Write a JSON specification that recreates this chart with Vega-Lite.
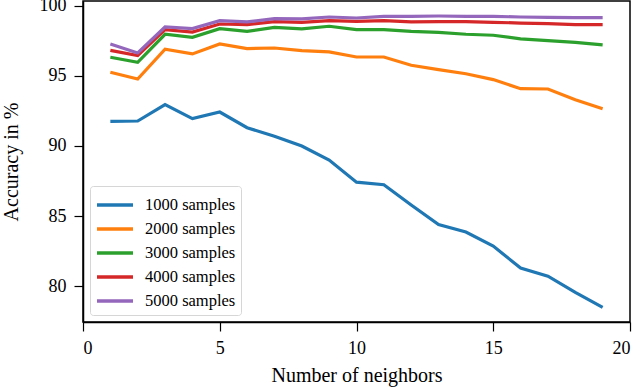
{
  "$schema": "https://vega.github.io/schema/vega-lite/v6.json",
  "autosize": {"type": "none"},
  "width": 547,
  "height": 321,
  "padding": {"left": 83, "top": 1, "right": 10, "bottom": 68},
  "background": "white",
  "config": {
    "font": "Liberation Serif",
    "view": {"stroke": "black", "strokeWidth": 1.5},
    "axis": {
      "labelFont": "Liberation Serif", "titleFont": "Liberation Serif",
      "domainColor": "black", "tickColor": "black", "labelColor": "black", "titleColor": "black",
      "grid": false, "tickSize": 9, "tickWidth": 1.2, "domainWidth": 1.5,
      "labelFontSize": 18, "titleFontSize": 20, "titleFontWeight": "normal", "labelPadding": 8
    },
    "legend": {"labelFont": "Liberation Serif"}
  },
  "data": {"values": [
    {"k":1,"acc":91.75,"s":"1000 samples"},{"k":2,"acc":91.78,"s":"1000 samples"},{"k":3,"acc":92.95,"s":"1000 samples"},{"k":4,"acc":91.95,"s":"1000 samples"},{"k":5,"acc":92.42,"s":"1000 samples"},{"k":6,"acc":91.3,"s":"1000 samples"},{"k":7,"acc":90.7,"s":"1000 samples"},{"k":8,"acc":90.0,"s":"1000 samples"},{"k":9,"acc":89.0,"s":"1000 samples"},{"k":10,"acc":87.42,"s":"1000 samples"},{"k":11,"acc":87.24,"s":"1000 samples"},{"k":12,"acc":85.8,"s":"1000 samples"},{"k":13,"acc":84.4,"s":"1000 samples"},{"k":14,"acc":83.87,"s":"1000 samples"},{"k":15,"acc":82.87,"s":"1000 samples"},{"k":16,"acc":81.3,"s":"1000 samples"},{"k":17,"acc":80.72,"s":"1000 samples"},{"k":18,"acc":79.57,"s":"1000 samples"},{"k":19,"acc":78.5,"s":"1000 samples"},
    {"k":1,"acc":95.25,"s":"2000 samples"},{"k":2,"acc":94.77,"s":"2000 samples"},{"k":3,"acc":96.9,"s":"2000 samples"},{"k":4,"acc":96.56,"s":"2000 samples"},{"k":5,"acc":97.27,"s":"2000 samples"},{"k":6,"acc":96.94,"s":"2000 samples"},{"k":7,"acc":96.98,"s":"2000 samples"},{"k":8,"acc":96.8,"s":"2000 samples"},{"k":9,"acc":96.7,"s":"2000 samples"},{"k":10,"acc":96.34,"s":"2000 samples"},{"k":11,"acc":96.34,"s":"2000 samples"},{"k":12,"acc":95.75,"s":"2000 samples"},{"k":13,"acc":95.44,"s":"2000 samples"},{"k":14,"acc":95.15,"s":"2000 samples"},{"k":15,"acc":94.73,"s":"2000 samples"},{"k":16,"acc":94.08,"s":"2000 samples"},{"k":17,"acc":94.06,"s":"2000 samples"},{"k":18,"acc":93.3,"s":"2000 samples"},{"k":19,"acc":92.66,"s":"2000 samples"},
    {"k":1,"acc":96.32,"s":"3000 samples"},{"k":2,"acc":95.96,"s":"3000 samples"},{"k":3,"acc":97.96,"s":"3000 samples"},{"k":4,"acc":97.74,"s":"3000 samples"},{"k":5,"acc":98.36,"s":"3000 samples"},{"k":6,"acc":98.17,"s":"3000 samples"},{"k":7,"acc":98.45,"s":"3000 samples"},{"k":8,"acc":98.34,"s":"3000 samples"},{"k":9,"acc":98.53,"s":"3000 samples"},{"k":10,"acc":98.29,"s":"3000 samples"},{"k":11,"acc":98.29,"s":"3000 samples"},{"k":12,"acc":98.17,"s":"3000 samples"},{"k":13,"acc":98.1,"s":"3000 samples"},{"k":14,"acc":97.96,"s":"3000 samples"},{"k":15,"acc":97.89,"s":"3000 samples"},{"k":16,"acc":97.63,"s":"3000 samples"},{"k":17,"acc":97.5,"s":"3000 samples"},{"k":18,"acc":97.38,"s":"3000 samples"},{"k":19,"acc":97.2,"s":"3000 samples"},
    {"k":1,"acc":96.81,"s":"4000 samples"},{"k":2,"acc":96.44,"s":"4000 samples"},{"k":3,"acc":98.29,"s":"4000 samples"},{"k":4,"acc":98.12,"s":"4000 samples"},{"k":5,"acc":98.69,"s":"4000 samples"},{"k":6,"acc":98.65,"s":"4000 samples"},{"k":7,"acc":98.86,"s":"4000 samples"},{"k":8,"acc":98.81,"s":"4000 samples"},{"k":9,"acc":98.93,"s":"4000 samples"},{"k":10,"acc":98.88,"s":"4000 samples"},{"k":11,"acc":98.93,"s":"4000 samples"},{"k":12,"acc":98.84,"s":"4000 samples"},{"k":13,"acc":98.86,"s":"4000 samples"},{"k":14,"acc":98.86,"s":"4000 samples"},{"k":15,"acc":98.81,"s":"4000 samples"},{"k":16,"acc":98.76,"s":"4000 samples"},{"k":17,"acc":98.72,"s":"4000 samples"},{"k":18,"acc":98.65,"s":"4000 samples"},{"k":19,"acc":98.65,"s":"4000 samples"},
    {"k":1,"acc":97.27,"s":"5000 samples"},{"k":2,"acc":96.63,"s":"5000 samples"},{"k":3,"acc":98.48,"s":"5000 samples"},{"k":4,"acc":98.36,"s":"5000 samples"},{"k":5,"acc":98.93,"s":"5000 samples"},{"k":6,"acc":98.84,"s":"5000 samples"},{"k":7,"acc":99.07,"s":"5000 samples"},{"k":8,"acc":99.05,"s":"5000 samples"},{"k":9,"acc":99.19,"s":"5000 samples"},{"k":10,"acc":99.12,"s":"5000 samples"},{"k":11,"acc":99.24,"s":"5000 samples"},{"k":12,"acc":99.24,"s":"5000 samples"},{"k":13,"acc":99.26,"s":"5000 samples"},{"k":14,"acc":99.24,"s":"5000 samples"},{"k":15,"acc":99.24,"s":"5000 samples"},{"k":16,"acc":99.19,"s":"5000 samples"},{"k":17,"acc":99.17,"s":"5000 samples"},{"k":18,"acc":99.15,"s":"5000 samples"},{"k":19,"acc":99.15,"s":"5000 samples"}
  ]},
  "mark": {"type": "line", "strokeWidth": 3.2, "clip": true},
  "encoding": {
    "x": {"field": "k", "type": "quantitative", "title": "Number of neighbors",
      "scale": {"domain": [0, 20], "nice": false, "zero": false},
      "axis": {"values": [0, 5, 10, 15, 20], "format": "d", "titlePadding": 8}},
    "y": {"field": "acc", "type": "quantitative", "title": "Accuracy in %",
      "scale": {"domain": [77.46, 100.33], "nice": false, "zero": false},
      "axis": {"values": [80, 85, 90, 95, 100], "format": "d", "titlePadding": 18}},
    "color": {"field": "s", "type": "nominal", "title": null,
      "scale": {"range": ["#1f77b4", "#ff7f0e", "#2ca02c", "#d62728", "#9467bd"]},
      "legend": {
        "orient": "none", "legendX": 7, "legendY": 185,
        "symbolType": "M-1.5,0H1.5", "symbolSize": 576, "symbolStrokeWidth": 3.5,
        "symbolOffset": 6,
        "labelFont": "Liberation Serif",
        "labelFontSize": 16.5, "labelColor": "black", "labelOffset": 16,
        "rowPadding": 1, "padding": 5,
        "strokeColor": "#d6d6d6", "fillColor": "white", "cornerRadius": 3
      }
    }
  }
}
